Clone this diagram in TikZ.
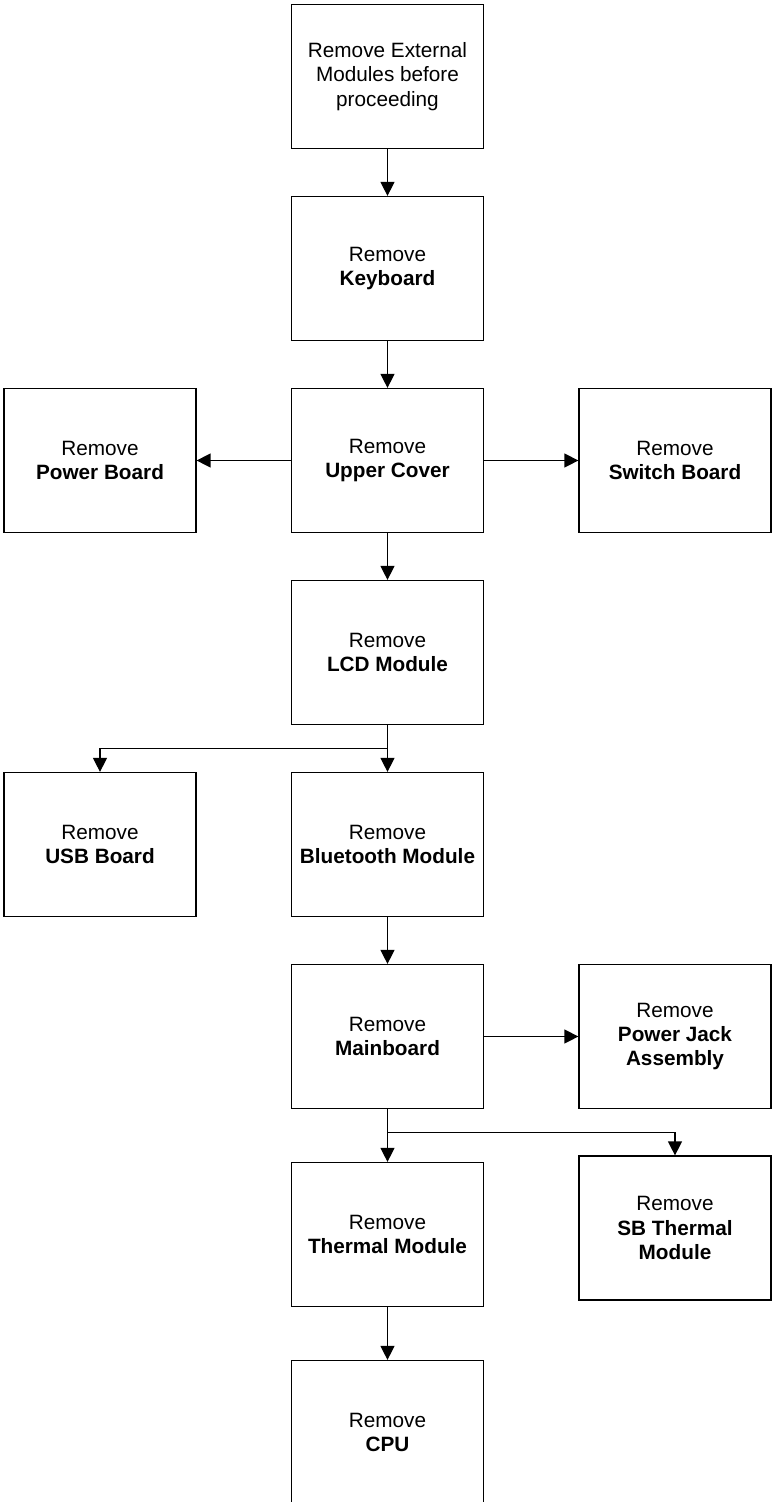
\documentclass[tikz,border=0pt]{standalone}
\usepackage{fontspec}
\setmainfont{Liberation Sans}
\usetikzlibrary{arrows.meta, calc}

\begin{document}
\begin{tikzpicture}[node distance=3.84cm, line width=0.7pt, >={Triangle[length=2.8mm, width=2.8mm]},
  box/.style={draw, align=center, minimum width=3.84cm, minimum height=2.88cm, inner sep=0pt, font=\fontsize{11.8}{13.8}\selectfont}]
\useasboundingbox (-7.75,1.53) rectangle (7.69,-28.51);
\node[box] (ext) {Remove External\\Modules before\\proceeding};
\node[box, below of=ext] (kb) {Remove\\\textbf{Keyboard}};
\node[box, below of=kb] (uc) {Remove\\\textbf{Upper Cover}};
\node[box, node distance=5.75cm, left of=uc] (pb) {Remove\\\textbf{Power Board}};
\node[box, node distance=5.75cm, right of=uc] (sw) {Remove\\\textbf{Switch Board}};
\node[box, below of=uc] (lcd) {Remove\\\textbf{LCD Module}};
\node[box, below of=lcd] (bt) {Remove\\\textbf{Bluetooth Module}};
\node[box, node distance=5.75cm, left of=bt] (usb) {Remove\\\textbf{USB Board}};
\node[box, below of=bt] (mb) {Remove\\\textbf{Mainboard}};
\node[box, node distance=5.75cm, right of=mb] (pj) {Remove\\\textbf{Power Jack}\\\textbf{Assembly}};
\node[box, node distance=3.96cm, below of=mb] (tm) {Remove\\\textbf{Thermal Module}};
\node[box, node distance=3.83cm, below of=pj] (sbt) {Remove\\\textbf{SB Thermal}\\\textbf{Module}};
\node[box, node distance=3.96cm, below of=tm] (cpu) {Remove\\\textbf{CPU}};
% branch points
\coordinate (lcdsplit) at ($(lcd.south)!.5!(bt.north)$);
\coordinate (mbsplit) at ($(mb.south)!.5!(mb.south |- sbt.north)$);
\draw[->] (ext) -- (kb);
\draw[->] (kb) -- (uc);
\draw[->] (uc) -- (pb);
\draw[->] (uc) -- (sw);
\draw[->] (uc) -- (lcd);
\draw[->] (lcd) -- (bt);
\draw[->] (lcd.south) -- (lcdsplit) -| (usb.north);
\draw[->] (bt) -- (mb);
\draw[->] (mb) -- (pj);
\draw[->] (mb) -- (tm);
\draw[->] (mb.south) -- (mbsplit) -| (sbt.north);
\draw[->] (tm) -- (cpu);
\end{tikzpicture}
\end{document}
